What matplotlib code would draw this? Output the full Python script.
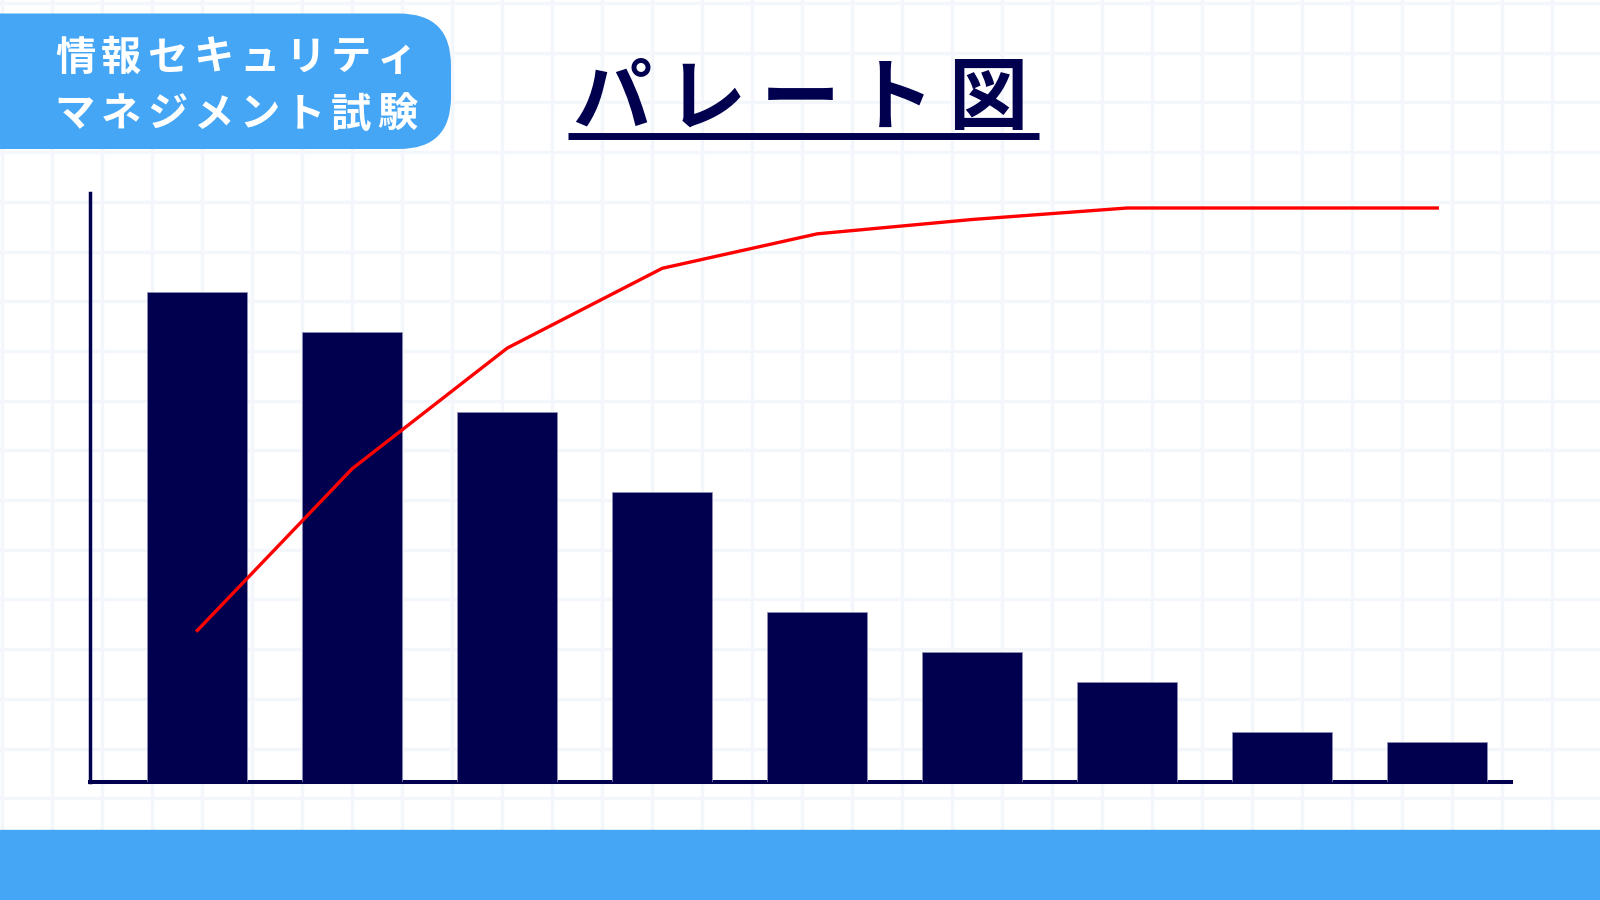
import matplotlib
matplotlib.use("Agg")
import numpy as np
import matplotlib.pyplot as plt
from matplotlib.patches import FancyBboxPatch, Rectangle

# data
items = ["A", "B", "C", "D", "E", "F", "G", "H", "I"]
counts = [98, 90, 74, 58, 34, 26, 20, 10, 8]
cum_pct = [26.4, 54.6, 75.6, 89.5, 95.5, 98.0, 100, 100, 100]

badge_lines = ["情報セキュリティ", "マネジメント試験"]
title = "パレート図"

NAVY = "#00004f"
BLUE = "#45a6f5"
GRID = "#f3f6fa"

plt.rcParams["font.family"] = ["Noto Sans CJK JP", "DejaVu Sans"]

W, H = 1600, 900
fig = plt.figure(figsize=(W / 100, H / 100), dpi=100)
fig.patch.set_facecolor("white")

# background layer in pixel coords
bg = fig.add_axes([0, 0, 1, 1])
bg.set_xlim(0, W)
bg.set_ylim(H, 0)
bg.axis("off")

for gx in np.arange(2, W, 50):
    bg.axvline(gx, color=GRID, lw=2.4, zorder=0)
for gy in np.arange(3, H, 49.7):
    bg.axhline(gy, color=GRID, lw=2.4, zorder=0)

# bottom band
bg.add_patch(Rectangle((0, 830), W, 70, color=BLUE, zorder=1))

# badge top-left
bg.add_patch(FancyBboxPatch((-80, 13.5), 531, 135.5,
                            boxstyle="round,pad=0,rounding_size=52",
                            fc=BLUE, ec="none", zorder=1))
for row, (line, cy) in enumerate(zip(badge_lines, [58, 115])):
    for i, ch in enumerate(line):
        bg.text(75 + 46 * i, cy, ch, color="white", fontsize=29,
                fontweight="bold", ha="center", va="center", zorder=2)

# title
for i, ch in enumerate(title):
    bg.text(612 + 94 * i, 100, ch, color=NAVY, fontsize=57,
            fontweight="bold", ha="center", va="center", zorder=2)
bg.plot([568, 1039], [135.5, 135.5], color=NAVY, lw=5, solid_capstyle="butt", zorder=2)

# chart
left, right, base, top = 90, 1511, 782, 192.7
ax = fig.add_axes([left / W, (H - base) / H, (right - left) / W, (base - top) / H])
ax.set_facecolor("none")
x = np.arange(len(items))
ax.bar(x, counts, width=0.645, color=NAVY, edgecolor="#9090b8", linewidth=0.5, zorder=3)
ax.set_xlim(-(197.3 - left) / 155, 8 + (right - 1437.3) / 155)
ax.set_ylim(0, (base - top) / 5)
ax.set_xticks([])
ax.set_yticks([])
for s in ["top", "right"]:
    ax.spines[s].set_visible(False)
ax.spines["left"].set_color(NAVY)
ax.spines["left"].set_linewidth(2.5)
ax.spines["bottom"].set_color(NAVY)
ax.spines["bottom"].set_linewidth(2.9)

ax2 = ax.twinx()
ax2.plot(x, cum_pct, color="#ff0000", lw=2.4, zorder=4)
ax2.set_ylim(0, 100 * (base - top) / 574)
ax2.axis("off")

fig.savefig("out.png", dpi=100)
